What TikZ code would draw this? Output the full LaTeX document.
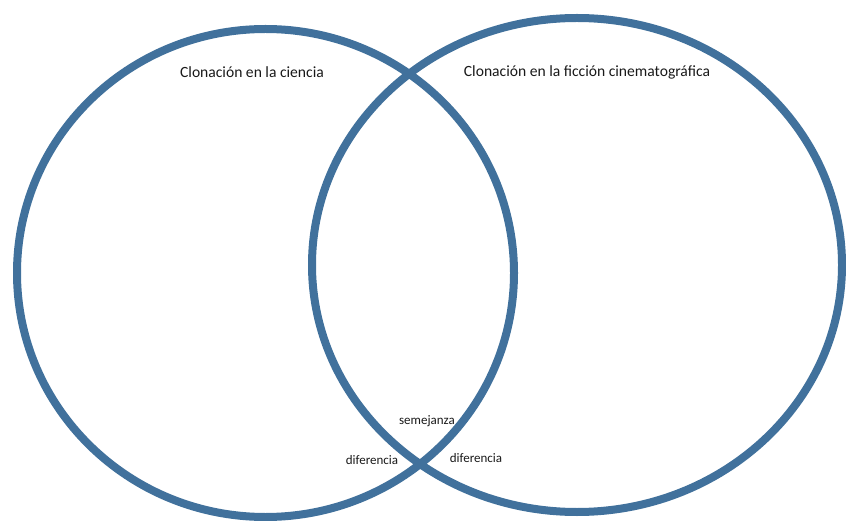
\documentclass[tikz,border=0pt]{standalone}
\usepackage{fontspec}
\setmainfont{Carlito}
\definecolor{vennblue}{HTML}{41719C}
\begin{document}
\begin{tikzpicture}[x=1pt,y=-1pt,
  venn/.style={draw=vennblue,line width=8pt},
  title/.style={font=\fontsize{15.6}{18}\selectfont,text=black!90,inner sep=0pt},
  small/.style={font=\fontsize{13}{15}\selectfont,text=black!90,inner sep=0pt}]
\useasboundingbox (0,0) rectangle (846,521);
\draw[venn] (265.5,273) ellipse [x radius=248.5pt, y radius=244pt];
\draw[venn] (577,265) ellipse [x radius=265pt, y radius=247pt];
\node[title] (t1) at (252,72) {Clonación en la ciencia};
\node[title] (t2) at (587,72) {Clonación en la ficción cinematográfica};
\node[small] (s) at (427,421) {semejanza};
\node[small] (d1) at (372,460) {diferencia};
\node[small] (d2) at (476,458) {diferencia};
\end{tikzpicture}
\end{document}
